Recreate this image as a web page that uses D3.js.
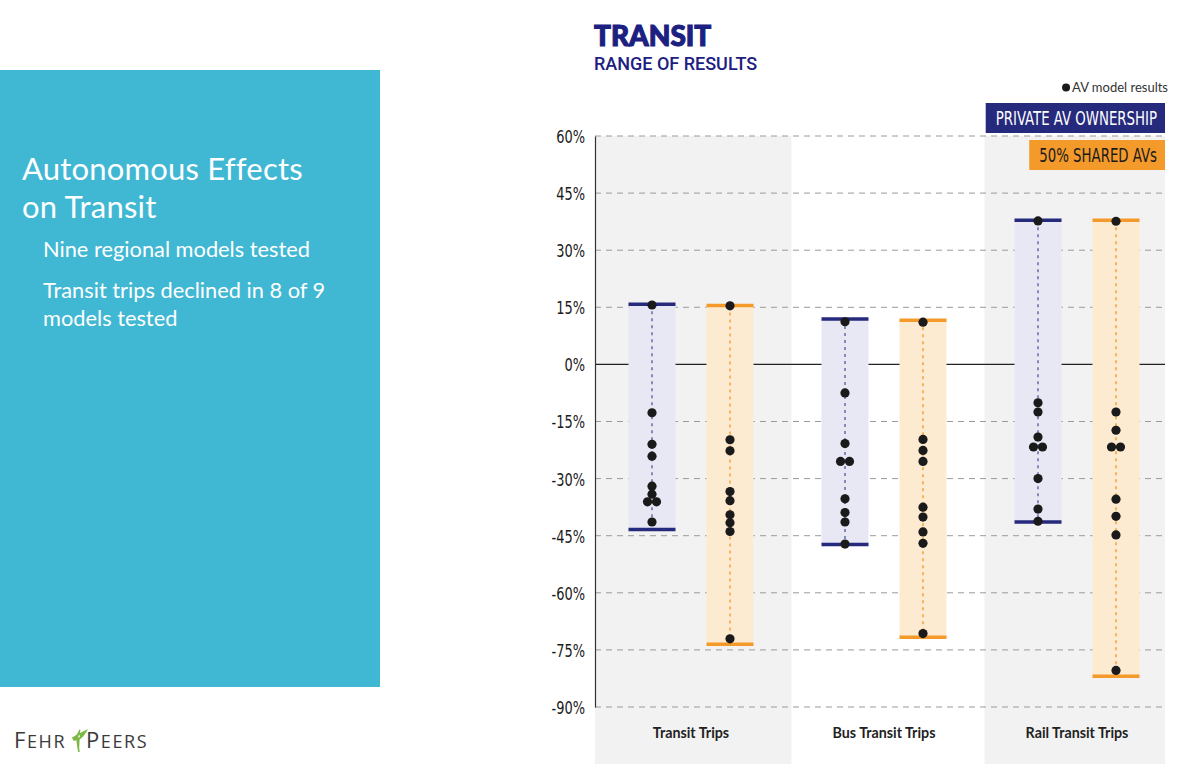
<!DOCTYPE html>
<html>
<head>
<meta charset="utf-8">
<script src="https://cdn.jsdelivr.net/npm/d3@7"></script>
<style>
    body { margin: 0; background: #fff; }
    svg { display: block; }
    .cond { font-family: "Liberation Sans Narrow", "DejaVu Sans Condensed", "Roboto", sans-serif; }
</style>
</head>
<body>
<svg id="chart" width="1200" height="768"></svg>
<script>
'use strict';

// chart data (percent change)
let groups = ['Transit Trips', 'Bus Transit Trips', 'Rail Transit Trips'];

let privateResults = [
    [15.6, -12.7, -21.0, -24.1, -32.0, -34.1, -36.1, -36.1, -41.4],
    [11.2, -7.5, -20.8, -25.5, -25.5, -35.3, -38.9, -41.4, -47.2],
    [37.7, -10.1, -12.5, -19.1, -21.7, -21.7, -30.0, -38.0, -41.2]
];
let privateRange = [[-43.4, 15.8], [-47.3, 11.9], [-41.4, 37.9]];

let sharedResults = [
    [15.4, -19.8, -22.7, -33.4, -35.8, -39.5, -41.6, -43.9, -72.1],
    [11.1, -19.7, -22.6, -25.5, -37.5, -40.1, -44.0, -47.0, -70.7],
    [37.6, -12.5, -17.3, -21.7, -21.7, -35.4, -39.9, -44.8, -80.4]
];
let sharedRange = [[-73.5, 15.5], [-71.7, 11.6], [-81.9, 37.9]];

let yTicks = [60, 45, 30, 15, 0, -15, -30, -45, -60, -75, -90];

let legendLabels = ['PRIVATE AV OWNERSHIP', '50% SHARED AVs'];

let NAVY = '#262a7d',
    ORANGE = '#f39a2b';

let series = [
    { key: 'private', results: privateResults, ranges: privateRange, color: NAVY, fill: '#e7e8f4', dash: '#6f72aa' },
    { key: 'shared', results: sharedResults, ranges: sharedRange, color: ORANGE, fill: '#fdebd1', dash: '#f4a63e' }
];

let svg = d3.select('#chart');

// squeeze a text element to look like a condensed face
function condense(sel, ratio) {
    sel.each(function() {
        let w = this.getComputedTextLength();
        d3.select(this)
            .attr('textLength', w * ratio)
            .attr('lengthAdjust', 'spacingAndGlyphs');
    });
}

/**
 * Left slide panel and logo
 */
svg.append('rect')
    .attr('x', 0).attr('y', 70)
    .attr('width', 380).attr('height', 617)
    .attr('fill', '#41b8d3');

let panel = svg.append('g')
    .attr('fill', '#fff')
    .style('font-family', 'Lato, "Open Sans", sans-serif');

panel.append('text').attr('x', 22).attr('y', 180)
    .style('font-size', '31px').style('letter-spacing', '0.2px')
    .text('Autonomous Effects');
panel.append('text').attr('x', 22).attr('y', 218)
    .style('font-size', '31px').style('letter-spacing', '0.2px')
    .text('on Transit');
panel.append('text').attr('x', 43).attr('y', 257)
    .style('font-size', '21.8px')
    .text('Nine regional models tested');
panel.append('text').attr('x', 43).attr('y', 298)
    .style('font-size', '21.8px')
    .text('Transit trips declined in 8 of 9');
panel.append('text').attr('x', 43).attr('y', 326)
    .style('font-size', '21.8px')
    .text('models tested');

let logo = svg.append('g')
    .attr('fill', '#3a3a3a')
    .style('font-family', '"Open Sans", sans-serif')
    .style('letter-spacing', '1.6px');
let fehr = logo.append('text').attr('x', 14).attr('y', 748);
fehr.append('tspan').style('font-size', '22px').text('F');
fehr.append('tspan').style('font-size', '18px').text('EHR');
let peers = logo.append('text').attr('x', 86).attr('y', 748);
peers.append('tspan').style('font-size', '22px').text('P');
peers.append('tspan').style('font-size', '18px').text('EERS');
logo.append('path')
    .attr('d', 'M80,730 C76,736 77,742 79,752 M73,738 C77,735 82,733 86,731 C82,738 78,740 74,740 Z')
    .attr('fill', '#7cb843')
    .attr('stroke', '#7cb843')
    .attr('stroke-width', 1.6);

/**
 * Chart title
 */
svg.append('text')
    .attr('x', 594).attr('y', 46)
    .attr('fill', '#1c2081')
    .attr('stroke', '#1c2081')
    .attr('stroke-width', 1.1)
    .style('font-family', 'Lato, Roboto, sans-serif')
    .style('font-weight', 900)
    .style('font-size', '28px')
    .text('TRANSIT');
svg.append('text')
    .attr('x', 594).attr('y', 70)
    .attr('fill', '#1c2081')
    .style('font-family', 'Roboto, sans-serif')
    .style('font-weight', 500)
    .style('font-size', '18px')
    .text('RANGE OF RESULTS');

/**
 * Plot
 */
let plotLeft = 595,
    plotRight = 1165;

let y = d3.scaleLinear()
    .domain([-90, 60])
    .range([707, 136]);

let x = d3.scalePoint()
    .domain(groups)
    .range([691, 1077]);

let offset = d3.scalePoint()
    .domain(series.map(function(s) { return s.key; }))
    .range([-39, 39]);

let barWidth = 47;

// alternating gray bands behind the groups
let bands = groups.map(function(g, i) {
    let x0 = i === 0 ? plotLeft : (x(groups[i - 1]) + x(g)) / 2 + 4;
    let x1 = i === groups.length - 1 ? plotRight : (x(g) + x(groups[i + 1])) / 2 + 4;
    return { x0: x0, x1: x1, shade: i % 2 === 0 };
});
svg.append('g')
    .selectAll('rect')
    .data(bands.filter(function(b) { return b.shade; }))
    .enter().append('rect')
    .attr('x', function(d) { return d.x0; })
    .attr('width', function(d) { return d.x1 - d.x0; })
    .attr('y', y(60))
    .attr('height', 764 - y(60))
    .attr('fill', '#f2f2f2');

// gridlines
svg.append('g')
    .selectAll('line')
    .data(yTicks)
    .enter().append('line')
    .attr('x1', plotLeft)
    .attr('x2', plotRight)
    .attr('y1', function(d) { return y(d); })
    .attr('y2', function(d) { return y(d); })
    .attr('stroke', function(d) { return d === 0 ? '#222' : '#9a9a9a'; })
    .attr('stroke-width', function(d) { return d === 0 ? 1.3 : 1; })
    .attr('stroke-dasharray', function(d) { return d === 0 ? null : '6,5'; });

// y axis labels
let yAxis = d3.axisLeft(y)
    .tickValues(yTicks)
    .tickSize(0)
    .tickPadding(10)
    .tickFormat(function(d) { return d + '%'; });
let yAxisG = svg.append('g')
    .attr('transform', 'translate(' + plotLeft + ',0)')
    .call(yAxis);
yAxisG.select('.domain').attr('stroke', '#333').attr('stroke-width', 1.2);
yAxisG.selectAll('text')
    .attr('class', 'cond')
    .attr('fill', '#1a1a1a')
    .style('font-size', '18px')
    .attr('dy', '0.36em')
    .call(condense, 0.8);

// range bars
series.forEach(function(s) {
    let g = svg.append('g').attr('class', 'series-' + s.key);
    let cx = function(i) { return x(groups[i]) + offset(s.key); };

    g.selectAll('rect')
        .data(s.ranges)
        .enter().append('rect')
        .attr('x', function(d, i) { return cx(i) - barWidth / 2; })
        .attr('width', barWidth)
        .attr('y', function(d) { return y(d[1]); })
        .attr('height', function(d) { return y(d[0]) - y(d[1]); })
        .attr('fill', s.fill);

    g.selectAll('line.stem')
        .data(s.ranges)
        .enter().append('line')
        .attr('class', 'stem')
        .attr('x1', function(d, i) { return cx(i); })
        .attr('x2', function(d, i) { return cx(i); })
        .attr('y1', function(d) { return y(d[1]); })
        .attr('y2', function(d) { return y(d[0]); })
        .attr('stroke', s.dash)
        .attr('stroke-width', 1.6)
        .attr('stroke-dasharray', '3,4');

    // caps at min and max
    let caps = [];
    s.ranges.forEach(function(r, i) {
        caps.push({ i: i, v: r[0] });
        caps.push({ i: i, v: r[1] });
    });
    g.selectAll('line.cap')
        .data(caps)
        .enter().append('line')
        .attr('class', 'cap')
        .attr('x1', function(d) { return cx(d.i) - barWidth / 2; })
        .attr('x2', function(d) { return cx(d.i) + barWidth / 2; })
        .attr('y1', function(d) { return y(d.v); })
        .attr('y2', function(d) { return y(d.v); })
        .attr('stroke', s.color)
        .attr('stroke-width', 3.5);

    // model result dots, equal values sit side by side
    let dots = [];
    s.results.forEach(function(vals, i) {
        let counts = d3.rollup(vals, function(v) { return v.length; }, function(v) { return v; });
        let seen = new Map();
        vals.forEach(function(v) {
            let n = counts.get(v);
            let k = seen.get(v) || 0;
            seen.set(v, k + 1);
            dots.push({ i: i, v: v, dx: (k - (n - 1) / 2) * 9 });
        });
    });
    g.selectAll('circle')
        .data(dots)
        .enter().append('circle')
        .attr('cx', function(d) { return cx(d.i) + d.dx; })
        .attr('cy', function(d) { return y(d.v); })
        .attr('r', 4.6)
        .attr('fill', '#1a1a1a');
});

// category labels
svg.append('g')
    .selectAll('text')
    .data(groups)
    .enter().append('text')
    .attr('x', function(d) { return x(d); })
    .attr('y', 738)
    .attr('text-anchor', 'middle')
    .attr('fill', '#222')
    .style('font-family', 'Lato, "Open Sans", sans-serif')
    .style('font-weight', 700)
    .style('font-size', '15.5px')
    .text(function(d) { return d; })
    .call(condense, 0.92);

/**
 * Legend (drawn last so it sits over the bands)
 */
let modelLegend = svg.append('text')
    .attr('x', 1168).attr('y', 92)
    .attr('text-anchor', 'end')
    .attr('fill', '#333')
    .style('font-family', 'Lato, sans-serif')
    .style('font-size', '13px')
    .text('AV model results');
let modelLegendWidth = modelLegend.node().getComputedTextLength();
svg.append('circle')
    .attr('cx', 1168 - modelLegendWidth - 6).attr('cy', 87.5)
    .attr('r', 4).attr('fill', '#1a1a1a');

let squeeze = 0.76;
legendLabels.forEach(function(d, i) {
    let top = 103 + i * 37;
    let g = svg.append('g');
    let box = g.append('rect')
        .attr('y', top).attr('height', 30)
        .attr('fill', series[i].color);
    let t = g.append('text')
        .attr('class', 'cond')
        .attr('transform', 'translate(' + (plotRight - 8) + ',' + (top + 22) + ') scale(' + squeeze + ',1)')
        .attr('text-anchor', 'end')
        .attr('fill', i === 0 ? '#fff' : '#1a1a1a')
        .style('font-size', '19.5px')
        .text(d);
    let w = t.node().getComputedTextLength() * squeeze;
    box.attr('x', plotRight - w - 18).attr('width', w + 18);
});
</script>
</body>
</html>
